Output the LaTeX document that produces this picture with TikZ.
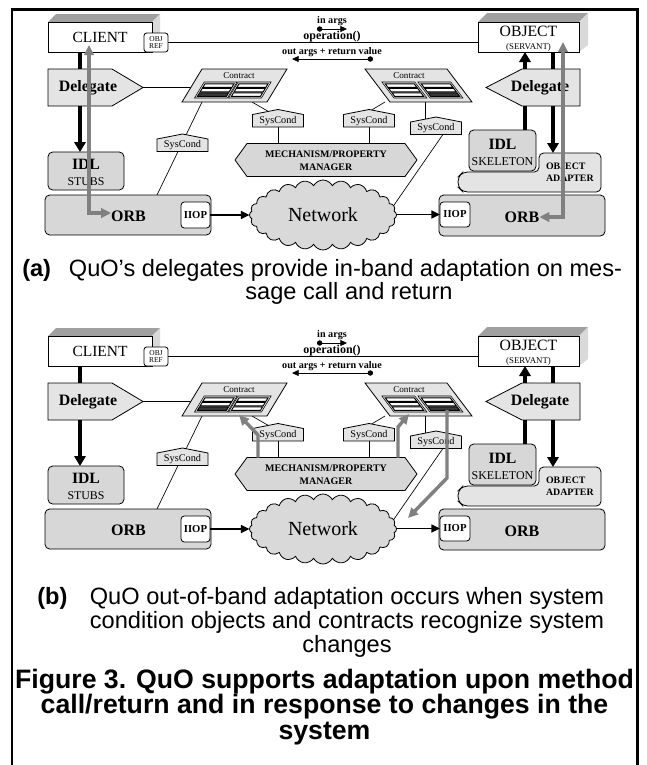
\documentclass[tikz,border=0pt]{standalone}
\usepackage{fontspec}
\setmainfont{Liberation Serif}
\newfontfamily\capfont{Liberation Sans}
\usetikzlibrary{arrows.meta,shapes.symbols}

\definecolor{facelt}{HTML}{E4E4E4}
\definecolor{facemd}{HTML}{D7D7D7}
\definecolor{facedk}{HTML}{A0A0A0}
\definecolor{faceside}{HTML}{D9D9D9}
\definecolor{bandk}{HTML}{3A3A3A}
\definecolor{flowgrey}{HTML}{808080}
\definecolor{cloudfill}{HTML}{D9D9D9}

\newcommand\setfs[1]{\fontsize{#1pt}{#1pt}\selectfont}

\tikzset{
  wh/.style 2 args={minimum width={#1*0.75pt},minimum height={#2*0.75pt},inner sep=0pt,outer sep=0pt},
  edge/.style={draw=black,line width=0.6pt},
  whitebox/.style={edge,fill=white},
  roundbox/.style={edge,rounded corners=3.5pt},
  lbl/.style={inner sep=0pt,outer sep=0pt},
  conn/.style={line width=0.5pt},
  callline/.style={line width=2.3pt},
  callflow/.style={line width=2.3pt,-{Triangle[length=7.5pt,width=8.5pt]}},
  greyboth/.style={draw=flowgrey,line width=2.6pt,{Triangle[length=7.5pt,width=7pt]}-{Triangle[length=7.5pt,width=7pt]}},
  greyflow/.style={draw=flowgrey,line width=2.6pt,-{Triangle[length=7.5pt,width=7pt]}},
  netflow/.style={line width=1.1pt,-{Triangle[length=6.5pt,width=6pt]}},
  msgflow/.style={line width=0.6pt,{Circle[length=4pt]}-{Triangle[length=5pt,width=4.5pt]}},
  captext/.style={inner sep=0pt,font=\capfont\fontsize{17.7pt}{18pt}\selectfont},
  figtext/.style={inner sep=0pt,font=\capfont\bfseries\fontsize{20pt}{20pt}\selectfont},
}

% one striped sub-panel of a contract (local, slanted coordinates)
\newcommand\cpara[2]{%
  \draw[line width=0.4pt,fill=facelt] (#1,13) -- (#1+33,13) -- (#1+33,29) -- (#1,29) -- cycle;
  \foreach \k/\yy in {1/14.8,2/19.3,3/23.8}{%
    \ifnum\k=#2\relax\def\bandcol{bandk}\else\def\bandcol{white}\fi
    \draw[line width=0.7pt,fill=\bandcol] (#1+2,\yy) -- (#1+31,\yy) -- (#1+31,\yy+3.6) -- (#1+2,\yy+3.6) -- cycle;
  }%
}

% system condition object: name, centre x, roof peak y
\newcommand\syscond[3]{%
  \draw[edge,fill=facelt] (#2-25.5,#3+5) -- (#2,#3) -- (#2+25.5,#3+5) -- (#2+25.5,#3+17.5) -- (#2-25.5,#3+17.5) -- cycle;
  \node[lbl] (#1) at (#2,#3+11.5) {\setfs{7.7}SysCond};
}

% the whole client/servant architecture: prefix, vertical offset
\newcommand\quopanel[2]{%
\begin{scope}[shift={(0,#2)}]
  % client and servant boxes
  \fill[facedk] (48,22) -- (56,14) -- (160,14) -- (152,22) -- cycle;
  \fill[faceside] (152,22) -- (160,14) -- (160,45) -- (152,52) -- cycle;
  \node[whitebox,wh={104}{30}] (#1-client) at (100,37) {\setfs{11.6}CLIENT};
  \node[whitebox,rounded corners=2pt,wh={24}{19},align=center,font=\fontsize{5.6pt}{5.4pt}\selectfont] (#1-oref) at (156,42.5) {OBJ\\REF};
  \fill[facedk] (478,22) -- (487,13) -- (588,13) -- (579,22) -- cycle;
  \fill[faceside] (579,22) -- (588,13) -- (588,45) -- (579,52) -- cycle;
  \node[whitebox,wh={101}{30}] (#1-object) at (528.5,37) {};
  \node[lbl] (#1-objname) at (528.5,31) {\setfs{11.8}OBJECT};
  \node[lbl] (#1-servant) at (528.5,47) {\setfs{6.6}(SERVANT)};
  \draw[conn] (#1-oref.east) -- (#1-oref.east -| #1-object.west);
  % invocation labels
  \node[lbl] (#1-inargs) at (332,21) {\setfs{7.6}\bfseries in args};
  \coordinate (#1-in0) at (317,29);
  \coordinate (#1-in1) at (347,29);
  \draw[msgflow] (#1-in0) -- (#1-in1);
  \node[lbl] (#1-op) at (332,37) {\setfs{9}\bfseries operation()};
  \node[lbl] (#1-outargs) at (332,52) {\setfs{7.6}\bfseries out args + return value};
  \coordinate (#1-out0) at (373,59);
  \coordinate (#1-out1) at (292,59);
  \draw[msgflow] (#1-out0) -- (#1-out1);
  % thin links
  \coordinate (#1-dtipL) at (143,87.5);
  \coordinate (#1-lcleft) at (191,87.5);
  \coordinate (#1-lcb1) at (202,102);
  \coordinate (#1-lcb2) at (252,102);
  \coordinate (#1-rcb1) at (385,102);
  \coordinate (#1-rcb2) at (425,102);
  \coordinate (#1-s2roof) at (271,113);
  \coordinate (#1-s3roof) at (365,114);
  \coordinate (#1-s4roof) at (425,121);
  \coordinate (#1-s4foot) at (446,130);
  \coordinate (#1-netedge) at (392,208);
  \coordinate (#1-orbtop) at (157,195);
  \coordinate (#1-s2foot) at (278,127);
  \coordinate (#1-s3foot) at (369,127);
  \coordinate (#1-mtop2) at (278,143.5);
  \coordinate (#1-mtop3) at (369,143.5);
  \draw[conn] (#1-dtipL) -- (#1-lcleft);
  \draw[conn] (#1-lcb1) -- (#1-orbtop);
  \draw[conn] (#1-lcb2) -- (#1-s2roof);
  \draw[conn] (#1-s2foot) -- (#1-mtop2);
  \draw[conn] (#1-s3foot) -- (#1-mtop3);
  \draw[conn] (#1-rcb1) -- (#1-s3roof);
  \draw[conn] (#1-rcb2) -- (#1-s4roof);
  \draw[conn] (#1-s4foot) -- (#1-netedge);
  % delegates
  \draw[edge,fill=facelt] (48,69) -- (112,69) -- (143,87.5) -- (112,106) -- (48,106) -- cycle;
  \node[lbl] (#1-delL) at (88,87.5) {\setfs{11.9}\bfseries Delegate};
  \draw[edge,fill=facelt] (580,69) -- (522,69) -- (486,87.5) -- (522,106) -- (580,106) -- cycle;
  \node[lbl] (#1-delR) at (540,87.5) {\setfs{11.9}\bfseries Delegate};
  % contracts
  \begin{scope}[shift={(202,69)},xslant=0.606]
    \draw[edge,fill=facelt] (0,0) -- (85,0) -- (85,33) -- (0,33) -- cycle;
    \cpara{10}{3}
    \cpara{44}{0}
  \end{scope}
  \node[lbl] (#1-lcontract) at (239,76) {\setfs{6.8}Contract};
  \begin{scope}[shift={(365,69)},xslant=-0.757]
    \draw[edge,fill=facelt] (0,0) -- (82,0) -- (82,33) -- (0,33) -- cycle;
    \cpara{7}{0}
    \cpara{43}{3}
  \end{scope}
  \node[lbl] (#1-rcontract) at (409,76) {\setfs{6.8}Contract};
  % stubs, skeleton, adapter, ORBs
  \node[roundbox,fill=facemd,wh={76}{38}] (#1-idl) at (86,171) {};
  \node[lbl] (#1-idlname) at (86,164.5) {\setfs{11.8}\bfseries IDL};
  \node[lbl] (#1-stubs) at (86,182) {\setfs{8.9}STUBS};
  \node[roundbox,fill=facemd,wh={166}{40}] (#1-orbL) at (128,215) {};
  \node[lbl] (#1-orbLname) at (128.5,216) {\setfs{12}\bfseries ORB};
  \node[whitebox,rounded corners=2.5pt,wh={29}{26}] (#1-iiopL) at (195.5,215) {\setfs{8}\bfseries IIOP};
  \node[roundbox,fill=facemd,wh={166}{41}] (#1-orbR) at (522,215.5) {};
  \node[lbl] (#1-orbRname) at (522,217) {\setfs{12}\bfseries ORB};
  \node[whitebox,rounded corners=2.5pt,wh={30}{25}] (#1-iiopR) at (455,214.5) {\setfs{8}\bfseries IIOP};
  \node[roundbox,fill=facemd,wh={67}{41}] (#1-skel) at (502.5,150.5) {};
  \node[lbl] (#1-skelname) at (502.5,144) {\setfs{11.8}\bfseries IDL};
  \node[lbl] (#1-skeleton) at (502.5,161.5) {\setfs{9}SKELETON};
  \draw[edge,fill=facelt,rounded corners=3.5pt] (539,172) -- (539,153) -- (601,153) -- (601,192) -- (463,192) -- (458,187) -- (458,177) -- (463,172) -- cycle;
  \node[lbl,anchor=west,align=left,font=\fontsize{7.4pt}{9pt}\selectfont\bfseries] (#1-adapter) at (546,172) {OBJECT\\ADAPTER};
  % property manager and system conditions
  \draw[edge,fill=facemd] (235,160) -- (247,143.5) -- (405,143.5) -- (417,160) -- (405,176.5) -- (247,176.5) -- cycle;
  \node[lbl,align=center,font=\fontsize{7.5pt}{9.75pt}\selectfont\bfseries] (#1-mech) at (326,160.5) {MECHANISM/PROPERTY\\MANAGER};
  \syscond{#1-s1}{182.5}{134}
  \syscond{#1-s2}{278}{109.5}
  \syscond{#1-s3}{369}{109.5}
  \syscond{#1-s4}{436}{117}
  % network
  \node[cloud,cloud puffs=24,cloud puff arc=125,cloud ignores aspect,edge,fill=cloudfill,wh={147}{70}] (#1-net) at (323,215) {\setfs{15}Network};
  \draw[netflow] (#1-iiopL.east) -- (#1-net.west |- #1-iiopL.east);
  \draw[netflow] (#1-net.east |- #1-iiopR.west) -- (#1-iiopR.west);
  % call path through the delegates
  \coordinate (#1-dLn) at (80,69);
  \coordinate (#1-dLs) at (80,106);
  \draw[callline] (#1-client.south -| #1-dLn) -- (#1-dLn);
  \draw[callflow] (#1-dLs) -- (#1-idl.north -| #1-dLs);
  \coordinate (#1-dRn1) at (525,69);
  \coordinate (#1-dRs1) at (525,106);
  \coordinate (#1-dRn2) at (553,69);
  \coordinate (#1-dRs2) at (553,106);
  \coordinate (#1-oatop) at (553,153);
  \draw[callline] (#1-skel.north -| #1-dRs1) -- (#1-dRs1);
  \draw[callflow] (#1-dRn1) -- (#1-object.south -| #1-dRn1);
  \draw[callline] (#1-object.south -| #1-dRn2) -- (#1-dRn2);
  \draw[callflow] (#1-dRs2) -- (#1-oatop);
\end{scope}}

\begin{document}
\begin{tikzpicture}[x=0.75pt,y=-0.75pt]
  \useasboundingbox (0,0) rectangle (647,765);
  \fill[white] (0,0) rectangle (647,765);
  \draw[line width=1.6pt] (12,770) -- (12,9.5) -- (637.5,9.5) -- (637.5,770);

  % (a) in-band adaptation
  \quopanel{a}{0}
  \coordinate (a-gL1) at (89,45);
  \coordinate (a-gL2) at (89,213);
  \draw[greyboth] (a-gL1) -- (a-gL2) -- (a-orbLname.west |- a-gL2);
  \coordinate (a-gR1) at (563,42);
  \coordinate (a-gR2) at (563,217);
  \draw[greyboth] (a-gR1) -- (a-gR2) -- (a-orbRname.east |- a-gR2);

  \node[captext,anchor=base west] (cap-a) at (22,276) {\bfseries (a)};
  \node[captext,anchor=base] (cap-a1) at (345.5,276) {QuO’s delegates provide in-band adaptation on mes-};
  \node[captext,anchor=base] (cap-a2) at (349,299.5) {sage call and return};

  % (b) out-of-band adaptation
  \quopanel{b}{314}
  \coordinate (b-g1a) at (258,457.5);
  \coordinate (b-g1b) at (258,435);
  \coordinate (b-g1c) at (239,415);
  \draw[greyflow] (b-g1a) -- (b-g1b) -- (b-g1c);
  \coordinate (b-g2a) at (398,457.5);
  \coordinate (b-g2b) at (398,427);
  \coordinate (b-g2c) at (409,414);
  \draw[greyflow] (b-g2a) -- (b-g2b) -- (b-g2c);
  \coordinate (b-g3a) at (447,410);
  \coordinate (b-g3b) at (447,478);
  \coordinate (b-g3c) at (408,518);
  \draw[greyflow] (b-g3a) -- (b-g3b) -- (b-g3c);

  \node[captext,anchor=base west] (cap-b) at (37,604) {\bfseries (b)};
  \node[captext,anchor=base] (cap-b1) at (347,604) {QuO out-of-band adaptation occurs when system};
  \node[captext,anchor=base] (cap-b2) at (347,628) {condition objects and contracts recognize system};
  \node[captext,anchor=base] (cap-b3) at (347,652) {changes};

  % figure caption
  \node[figtext,anchor=base] (fig-1) at (324.5,688) {Figure 3. QuO supports adaptation upon method};
  \node[figtext,anchor=base] (fig-2) at (324.5,713.5) {call/return and in response to changes in the};
  \node[figtext,anchor=base] (fig-3) at (324.5,739) {system};
\end{tikzpicture}
\end{document}
